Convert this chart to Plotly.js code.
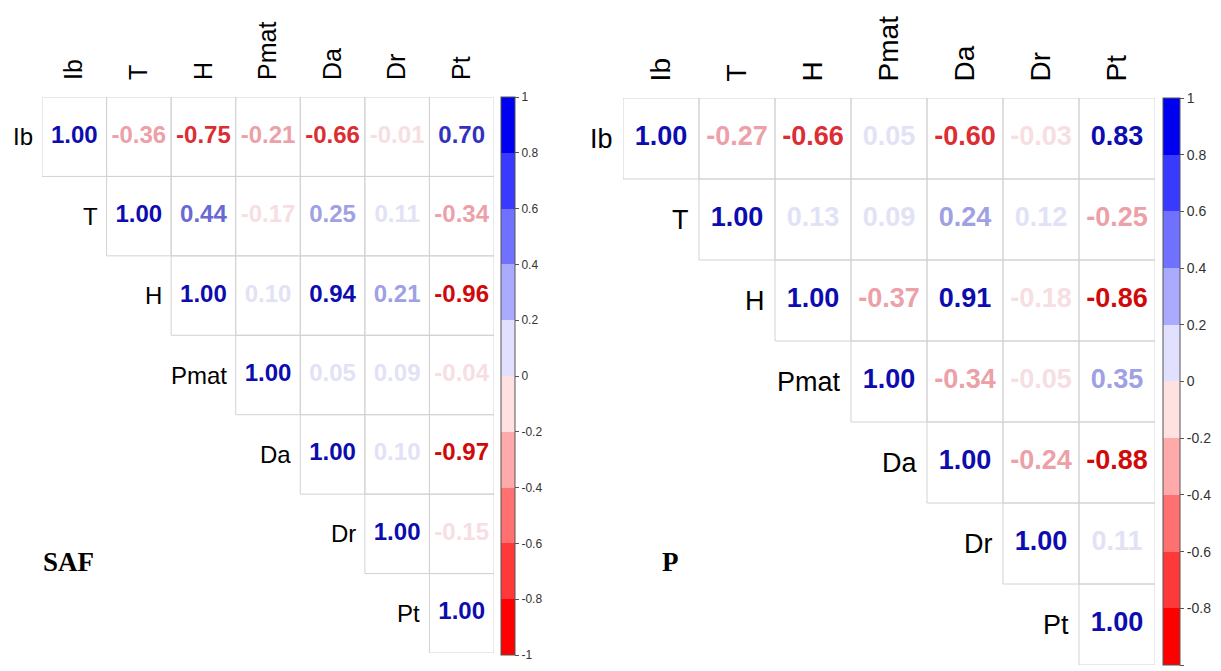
<!DOCTYPE html>
<html>
<head>
<meta charset="utf-8">
<script src="https://cdn.plot.ly/plotly-3.0.1.min.js"></script>
<style>html,body{margin:0;padding:0;background:#fff;}#chart{width:1221px;height:671px;}</style>
</head>
<body>
<div id="chart"></div>
<script>
// ---- data ----
const variables = ["Ib", "T", "H", "Pmat", "Da", "Dr", "Pt"];

// upper-triangle rows (row i starts at column i)
const safIb   = [1.00, -0.36, -0.75, -0.21, -0.66, -0.01, 0.70];
const safT    = [1.00, 0.44, -0.17, 0.25, 0.11, -0.34];
const safH    = [1.00, 0.10, 0.94, 0.21, -0.96];
const safPmat = [1.00, 0.05, 0.09, -0.04];
const safDa   = [1.00, 0.10, -0.97];
const safDr   = [1.00, -0.15];
const safPt   = [1.00];

const pIb   = [1.00, -0.27, -0.66, 0.05, -0.60, -0.03, 0.83];
const pT    = [1.00, 0.13, 0.09, 0.24, 0.12, -0.25];
const pH    = [1.00, -0.37, 0.91, -0.18, -0.86];
const pPmat = [1.00, -0.34, -0.05, 0.35];
const pDa   = [1.00, -0.24, -0.88];
const pDr   = [1.00, 0.11];
const pPt   = [1.00];

const panelTitles = ["SAF", "P"];
const cbTickVals = [-1, -0.8, -0.6, -0.4, -0.2, 0, 0.2, 0.4, 0.6, 0.8, 1];
const cbTickText = ["-1", "-0.8", "-0.6", "-0.4", "-0.2", "0", "0.2", "0.4", "0.6", "0.8", "1"];

// ---- styling ----
const barPalette = [
  "rgb(255,0,0)", "rgb(255,57,57)", "rgb(255,113,113)", "rgb(255,170,170)", "rgb(255,225,225)",
  "rgb(225,225,255)", "rgb(170,170,255)", "rgb(113,113,255)", "rgb(57,57,255)", "rgb(0,0,240)"
];
const textPalette = [
  "rgb(208,10,10)", "rgb(220,45,50)", "rgb(230,95,100)", "rgb(236,160,168)", "rgb(246,222,226)",
  "rgb(226,226,246)", "rgb(160,160,228)", "rgb(105,105,212)", "rgb(50,50,188)", "rgb(12,12,175)"
];
function binOf(v) {
  let b = Math.ceil((v + 1) * 5 - 1e-9) - 1;
  return Math.max(0, Math.min(9, b));
}
const discreteScale = [];
barPalette.forEach((c, k) => { discreteScale.push([k / 10, c]); discreteScale.push([(k + 1) / 10, c]); });

const W = 1221, H = 671;
const panels = [
  { rows: [safIb, safT, safH, safPmat, safDa, safDr, safPt],
    px: [42, 494], py: [97, 653], font: 24, hfont: 25, cbx: 501, cbw: 14, cbtop: 97, cbbot: 655, cbfont: 12,
    titlePos: [68, 562], labelShift: -7, tickStand: 11 },
  { rows: [pIb, pT, pH, pPmat, pDa, pDr, pPt],
    px: [623, 1155], py: [98, 665], font: 27, hfont: 28, cbx: 1163, cbw: 17, cbtop: 98, cbbot: 665, cbfont: 14,
    titlePos: [670, 562], labelShift: -8, tickStand: 10 }
];

const traces = [], shapes = [], annotations = [];
const layout = {
  width: W, height: H, margin: {l: 0, r: 0, t: 0, b: 0},
  paper_bgcolor: "#fff", plot_bgcolor: "#fff", showlegend: false,
  font: {family: "Liberation Sans, Arial, sans-serif", color: "#000"}
};

panels.forEach((p, idx) => {
  const sfx = idx === 0 ? "" : "2";
  const xa = "x" + sfx, ya = "y" + sfx, ca = "coloraxis" + sfx;
  const xs = [], ys = [], vals = [], txt = [], tcol = [];
  p.rows.forEach((row, i) => {
    row.forEach((v, k) => {
      const j = i + k;
      xs.push(j); ys.push(i); vals.push(v);
      txt.push(v.toFixed(2)); tcol.push(textPalette[binOf(v)]);
      shapes.push({type: "rect", xref: xa, yref: ya, x0: j - 0.5, x1: j + 0.5, y0: i - 0.5, y1: i + 0.5,
        line: {color: "#d2d2d2", width: 1}, fillcolor: "rgba(0,0,0,0)", layer: "below"});
    });
    annotations.push({xref: xa, yref: ya, x: i - 0.5, y: i, text: variables[i], showarrow: false,
      xanchor: "right", yanchor: "middle", xshift: p.labelShift,
      font: {size: p.font, family: "Liberation Sans, Arial, sans-serif", color: "#000"}});
  });
  traces.push({
    type: "scatter", mode: "markers+text", x: xs, y: ys, text: txt, xaxis: xa, yaxis: ya,
    textposition: "middle center", hoverinfo: "skip",
    textfont: {size: p.font, color: tcol, family: "Liberation Sans, Arial, sans-serif", weight: "bold"},
    marker: {size: 1, opacity: 0, color: vals, coloraxis: ca}
  });
  layout[ca] = {
    cmin: -1, cmax: 1, colorscale: discreteScale, showscale: true,
    colorbar: {x: p.cbx / W, xanchor: "left", xpad: 0, ypad: 0, thickness: p.cbw, thicknessmode: "pixels",
      y: 1 - p.cbtop / H, yanchor: "top", len: (p.cbbot - p.cbtop) / H, lenmode: "fraction",
      outlinewidth: 1, outlinecolor: "#555", tickmode: "array", tickvals: cbTickVals, ticktext: cbTickText,
      ticks: "outside", ticklen: 4, tickcolor: "#555", tickwidth: 1,
      tickfont: {size: p.cbfont, color: "#333", family: "Liberation Sans, Arial, sans-serif"}}
  };
  layout["xaxis" + sfx] = {
    domain: [p.px[0] / W, p.px[1] / W], range: [-0.5, 6.5], anchor: ya, side: "top",
    tickvals: [0, 1, 2, 3, 4, 5, 6], ticktext: variables, tickangle: -90,
    ticks: "outside", ticklen: p.tickStand, tickcolor: "rgba(0,0,0,0)",
    tickfont: {size: p.hfont, color: "#000"},
    showgrid: false, zeroline: false, showline: false, automargin: false, fixedrange: true
  };
  layout["yaxis" + sfx] = {
    domain: [1 - p.py[1] / H, 1 - p.py[0] / H], range: [6.5, -0.5], anchor: xa,
    showticklabels: false, ticks: "", showgrid: false, zeroline: false, showline: false,
    automargin: false, fixedrange: true
  };
  annotations.push({xref: "paper", yref: "paper", x: p.titlePos[0] / W, y: 1 - p.titlePos[1] / H,
    text: "<b>" + panelTitles[idx] + "</b>", showarrow: false, xanchor: "center", yanchor: "middle",
    font: {size: 27, family: "Liberation Serif, Times New Roman, serif", color: "#000"}});
});
layout.shapes = shapes;
layout.annotations = annotations;

Plotly.newPlot("chart", traces, layout, {displayModeBar: false, staticPlot: true});
</script>
</body>
</html>
